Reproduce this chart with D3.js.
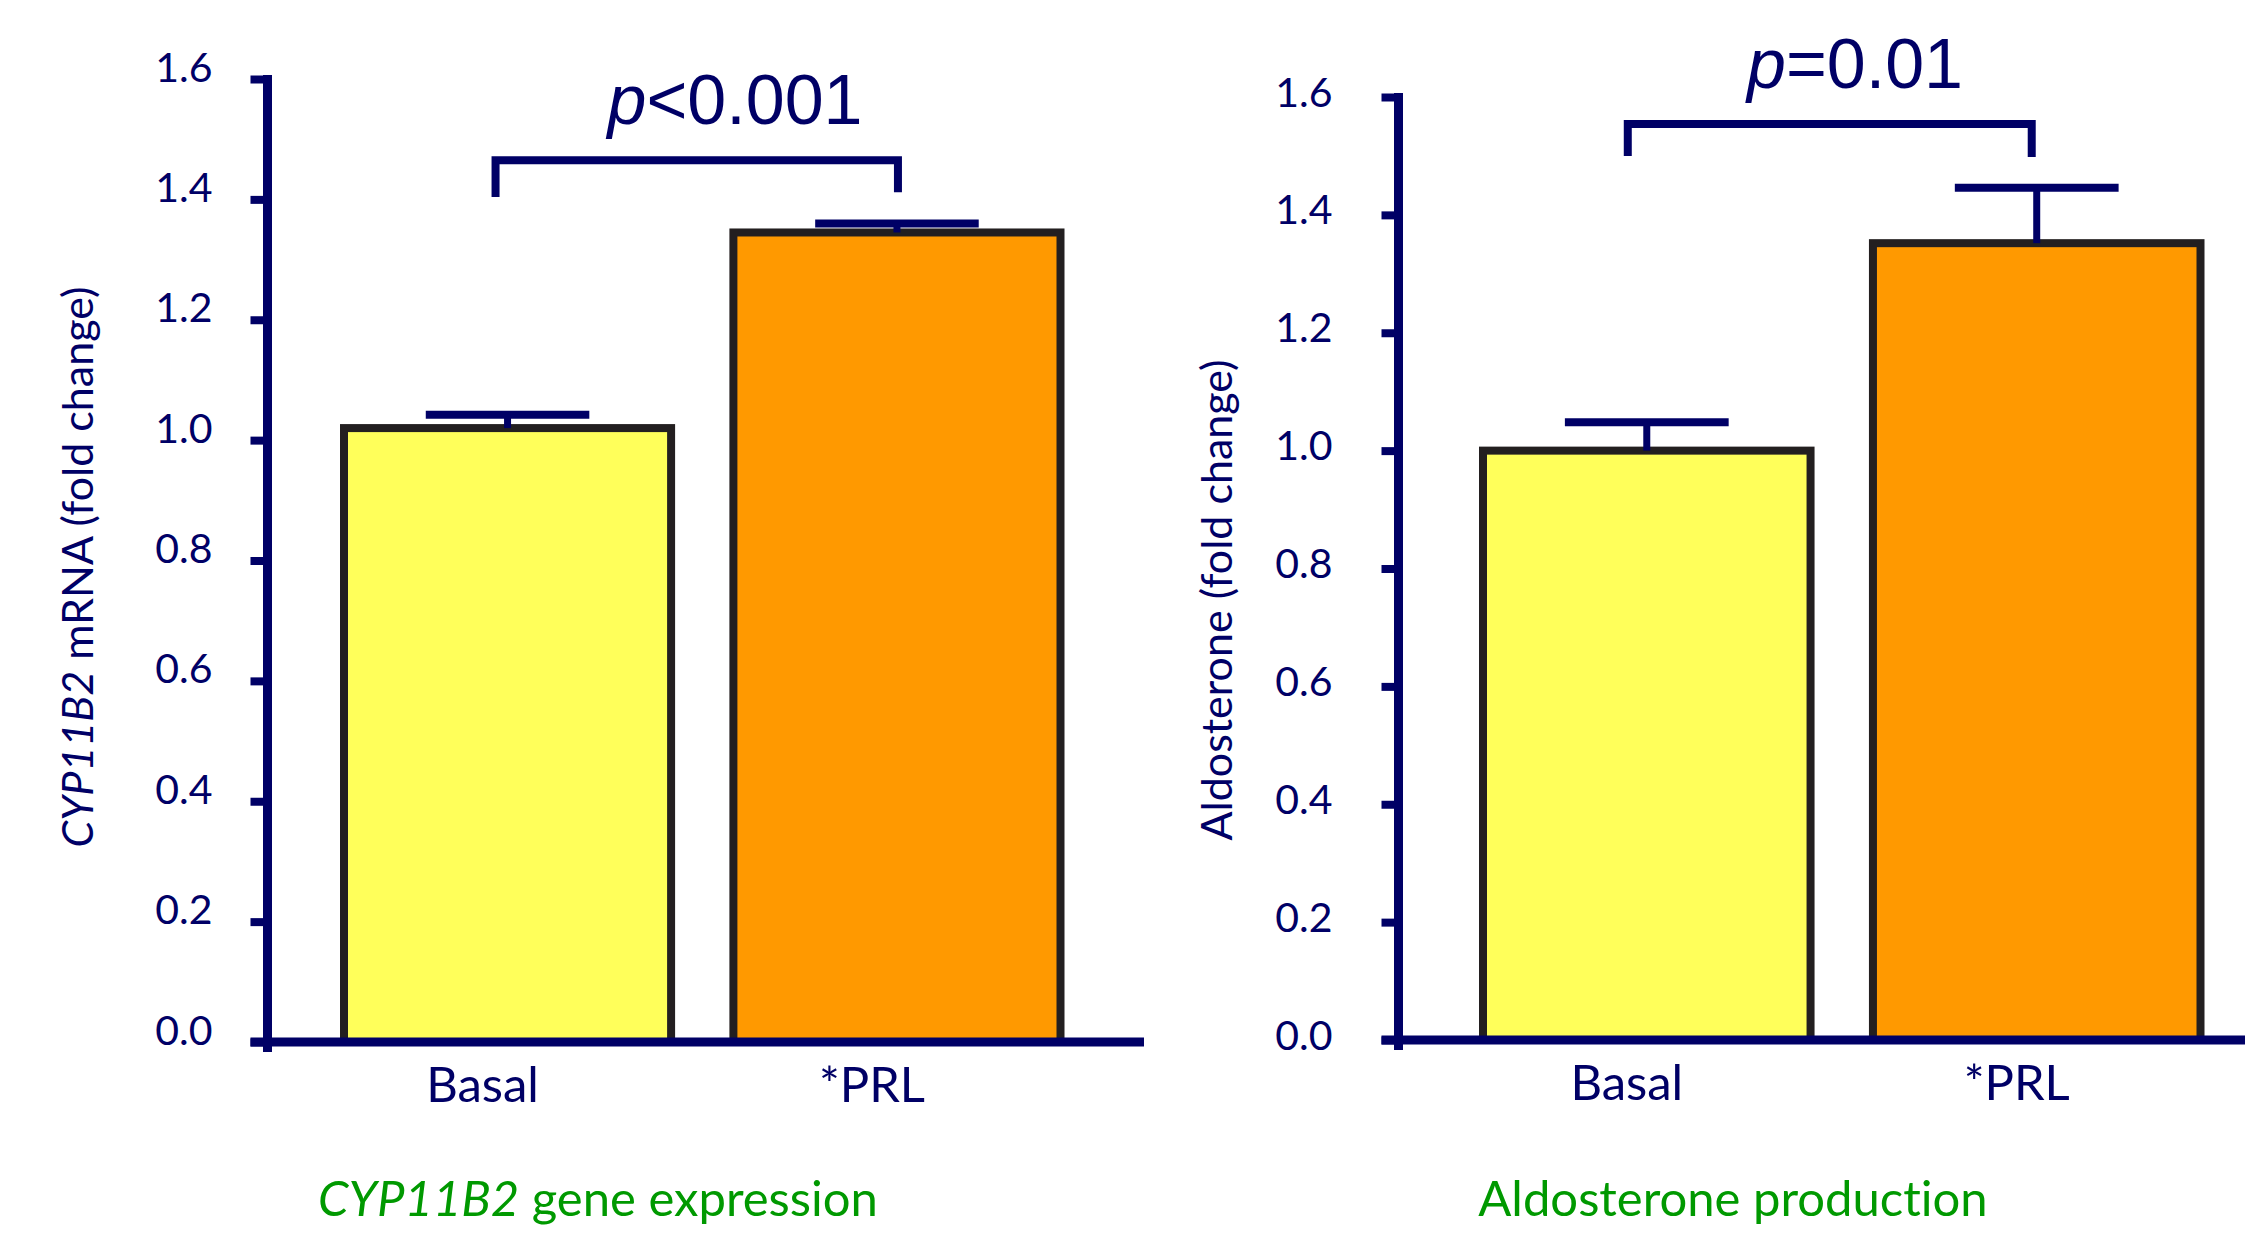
<!DOCTYPE html>
<html><head><meta charset="utf-8">
<script src="https://cdn.jsdelivr.net/npm/d3@7"></script>
<style>html,body{margin:0;padding:0;background:#fff;} svg{display:block} text{font-variant-ligatures:none;font-feature-settings:"liga" 0;}</style>
</head><body>
<svg id="chart" width="2245" height="1241"></svg>
<script>
// ---- data ----
const categories = ["Basal", "*PRL"];
const mrnaMeans = [1.02, 1.345];
const mrnaSem = [0.022, 0.015];
const aldoMeans = [1.0, 1.352];
const aldoSem = [0.048, 0.094];
const yTickValues = [0, 0.2, 0.4, 0.6, 0.8, 1.0, 1.2, 1.4, 1.6];
const yDomain = [0, 1.6];
const pTexts = [["p", "<0.001"], ["p", "=0.01"]];
const bracketTop = [1.465, 1.554];
const bracketLegs = [[1.404, 1.412], [1.5, 1.498]];
const yTitles = [[["CYP11B2", true], [" mRNA (fold change)", false]], [["Aldosterone (fold change)", false]]];
const subtitles = [[["CYP11B2", true], [" gene expression", false]], [["Aldosterone production", false]]];
const barColors = ["#FFFF5A", "#FF9900"];

// ---- layout ----
const NAVY = "#000066", GREEN = "#009900", EDGE = "#231f20";
const panels = [
  {means: mrnaMeans, sem: mrnaSem, axisX: 267.5, y0: 1042, y1: 79, bandStart: 344, bandEnd: 1060.5, xEnd: 1144,
   labelDx: -55, labelDy: 2, catDx: -25, titleX: 93, titleY: 567, subX: 598, pX: 735, legOffsets: [-12, 1]},
  {means: aldoMeans, sem: aldoSem, axisX: 1398.5, y0: 1040, y1: 97, bandStart: 1483, bandEnd: 2200.5, xEnd: 2245,
   labelDx: -66, labelDy: 9, catDx: -20, titleX: 1232, titleY: 600, subX: 1733, pX: 1855, legOffsets: [-19, -5]}
];

const svg = d3.select("#chart");
svg.append("rect").attr("width", 2245).attr("height", 1241).attr("fill", "#fff");

panels.forEach((P, i) => {
  const g = svg.append("g");
  const y = d3.scaleLinear().domain(yDomain).range([P.y0, P.y1]);
  const x = d3.scaleBand().domain(categories).range([P.bandStart, P.bandEnd]).paddingInner(0.16).paddingOuter(0);
  const bw = x.bandwidth();

  // bars
  g.selectAll("rect.bar").data(categories).join("rect").attr("class", "bar")
    .attr("x", d => x(d)).attr("width", bw)
    .attr("y", (d, j) => y(P.means[j]))
    .attr("height", (d, j) => y(0) - y(P.means[j]))
    .attr("fill", (d, j) => barColors[j])
    .attr("stroke", EDGE).attr("stroke-width", 8);

  // error bars
  categories.forEach((c, j) => {
    const cx = x(c) + bw / 2;
    g.append("line").attr("x1", cx).attr("x2", cx)
      .attr("y1", y(P.means[j])).attr("y2", y(P.means[j] + P.sem[j]))
      .attr("stroke", NAVY).attr("stroke-width", 7);
    g.append("line").attr("x1", cx - bw / 4).attr("x2", cx + bw / 4)
      .attr("y1", y(P.means[j] + P.sem[j])).attr("y2", y(P.means[j] + P.sem[j]))
      .attr("stroke", NAVY).attr("stroke-width", 8);
  });

  // y axis
  const yAxis = d3.axisLeft(y).tickValues(yTickValues).tickSize(17).tickSizeOuter(0)
    .tickFormat(d3.format(".1f"));
  const ya = g.append("g").attr("transform", `translate(${P.axisX},0)`).call(yAxis);
  ya.select(".domain").remove();
  ya.selectAll(".tick line").attr("stroke", NAVY).attr("stroke-width", 8);
  ya.selectAll(".tick text").attr("x", P.labelDx).attr("dy", P.labelDy)
    .attr("fill", NAVY).attr("font-family", "Lato, 'Open Sans', sans-serif").attr("font-size", 41)
    .attr("text-anchor", "end");
  g.append("line").attr("x1", P.axisX).attr("x2", P.axisX)
    .attr("y1", y(yDomain[1]) - 4).attr("y2", y(0) + 10)
    .attr("stroke", NAVY).attr("stroke-width", 9);

  // x axis
  g.append("line").attr("x1", P.axisX - 17).attr("x2", P.xEnd)
    .attr("y1", y(0)).attr("y2", y(0)).attr("stroke", NAVY).attr("stroke-width", 9);
  const xAxis = d3.axisBottom(x).tickSize(0);
  const xa = g.append("g").attr("transform", `translate(0,${y(0)})`).call(xAxis);
  xa.select(".domain").remove();
  xa.selectAll(".tick text").attr("y", 60).attr("dy", 0).attr("dx", P.catDx)
    .attr("fill", NAVY).attr("font-family", "Lato, 'Open Sans', sans-serif").attr("font-size", 49);

  // bracket
  const lx = x(categories[0]) + bw / 2 + P.legOffsets[0];
  const rx = x(categories[1]) + bw / 2 + P.legOffsets[1];
  const path = d3.path();
  path.moveTo(lx, y(bracketLegs[i][0]));
  path.lineTo(lx, y(bracketTop[i]));
  path.lineTo(rx, y(bracketTop[i]));
  path.lineTo(rx, y(bracketLegs[i][1]));
  g.append("path").attr("d", path.toString()).attr("fill", "none")
    .attr("stroke", NAVY).attr("stroke-width", 8).attr("stroke-linejoin", "miter");

  // p text
  const pt = g.append("text").attr("x", P.pX).attr("y", y(bracketTop[i]) - 36)
    .attr("text-anchor", "middle").attr("fill", NAVY)
    .attr("font-family", "'Liberation Sans', Arial, sans-serif").attr("font-size", 70);
  pt.append("tspan").attr("font-style", "italic").text(pTexts[i][0]);
  pt.append("tspan").text(pTexts[i][1]);

  // y title
  const yt = g.append("text").attr("transform", `translate(${P.titleX},${P.titleY}) rotate(-90)`)
    .attr("text-anchor", "middle").attr("fill", NAVY)
    .attr("font-family", "Lato, 'Open Sans', sans-serif").attr("font-size", 43);
  yTitles[i].forEach(([t, it]) => yt.append("tspan").attr("font-style", it ? "italic" : "normal").text(t));

  // subtitle
  const st = g.append("text").attr("x", P.subX).attr("y", 1216)
    .attr("text-anchor", "middle").attr("fill", GREEN)
    .attr("font-family", "Lato, 'Open Sans', sans-serif").attr("font-size", 49);
  subtitles[i].forEach(([t, it]) => st.append("tspan").attr("font-style", it ? "italic" : "normal").text(t));
});
</script>
</body></html>
